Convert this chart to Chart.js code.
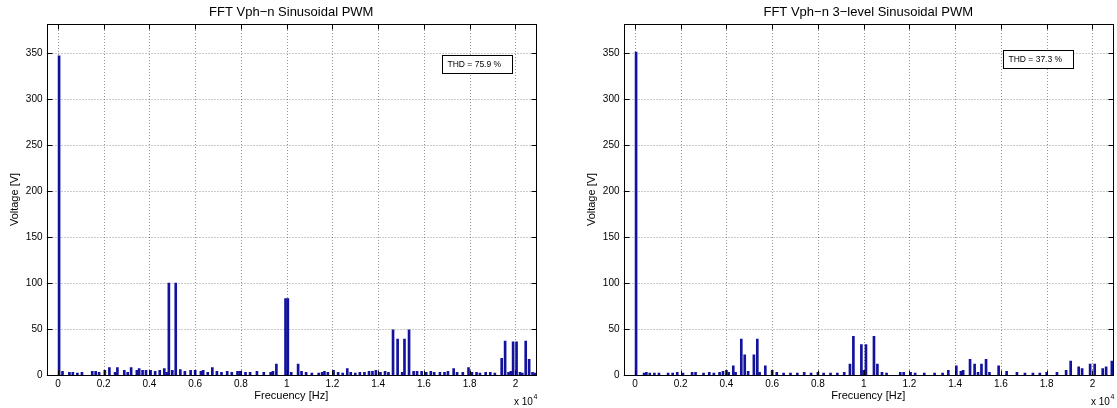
<!DOCTYPE html>
<html><head><meta charset="utf-8">
<script src="https://cdn.jsdelivr.net/npm/chart.js@4.4.1/dist/chart.umd.min.js"></script>
<style>
html,body{margin:0;padding:0;background:#fff;}
#wrap{position:relative;width:1117px;height:408px;overflow:hidden;}
#c1{position:absolute;left:0;top:0;}
#c2{position:absolute;left:577px;top:0;}
</style></head><body>
<div id="wrap"><canvas id="c1" width="577" height="408"></canvas><canvas id="c2" width="540" height="408"></canvas></div>
<script>
// ---- tick values / labels ----
const xTicks = [0, 2000, 4000, 6000, 8000, 10000, 12000, 14000, 16000, 18000, 20000];
const xTickLabels = ['0', '0.2', '0.4', '0.6', '0.8', '1', '1.2', '1.4', '1.6', '1.8', '2'];
const yTicks = [0, 50, 100, 150, 200, 250, 300, 350];

// ---- titles / text ----
const leftTitle = 'FFT Vph\u2212n Sinusoidal PWM';
const rightTitle = 'FFT Vph\u2212n 3\u2212level Sinusoidal PWM';
const xLabel = 'Frecuency [Hz]';
const yLabel = 'Voltage [V]';
const leftTHD = 'THD = 75.9 %';
const rightTHD = 'THD = 37.3 %';

// ---- left spectrum (2-level SPWM): frequency [Hz] and amplitude [V] ----
const leftFreq = [50,
  4850, 5150, 9950, 10050, 14650, 14850, 15150, 15350,
  19400, 19550, 19900, 20050, 20450, 20600, 9550, 10500,
  200, 500, 650, 850, 1050, 1500, 1650, 1800, 2050, 2250, 2500, 2600, 2900, 3050,
  3200, 3450, 3550, 3700, 3850, 4050, 4250, 4450, 4650, 4750, 5000, 5350, 5550,
  5800, 6000, 6250, 6350, 6550, 6750, 6950, 7150, 7400, 7600, 7850, 7950, 8200,
  8400, 8700, 9000, 9300, 9400, 10200, 10650, 10850, 11100, 11400, 11550, 11650,
  11800, 12050, 12250, 12450, 12650, 12800, 13000, 13200, 13400, 13600, 13750,
  13900, 14100, 14300, 14450, 15050, 15550, 15700, 15900, 16100, 16300, 16450,
  16700, 16900, 17050, 17300, 17450, 17700, 17950, 18100, 18300, 18450, 18700,
  18900, 19100, 19700, 19800, 20200, 20300, 20750, 20850];
const leftAmp = [347,
  100, 100, 83, 83, 49, 39, 39, 49,
  18, 37, 36, 36, 37, 17, 12, 12,
  4, 3, 3, 2, 3, 4, 4, 3, 5, 8, 3, 8, 5, 3,
  8, 5, 7, 5, 5, 5, 4, 5, 7, 3, 5, 6, 4,
  5, 5, 4, 5, 3, 8, 4, 3, 4, 3, 4, 4, 3,
  3, 4, 3, 3, 4, 3, 4, 3, 2, 2, 3, 4,
  3, 5, 3, 2, 7, 3, 2, 3, 3, 4, 4,
  5, 3, 4, 3, 3, 4, 4, 4, 3, 4, 3,
  3, 3, 4, 7, 3, 3, 8, 3, 3, 2, 3,
  3, 2, 3, 4, 3, 2, 3, 2];

// ---- right spectrum (3-level SPWM) ----
const rightFreq = [50,
  4300, 4650, 4800, 5200, 5350, 5700, 9400, 9550, 9900, 10100, 10450, 10600,
  13700, 14050, 14650, 14850, 15150, 15350, 15900, 19050, 19400, 19550, 19900,
  20100, 20450, 20600, 20850,
  400, 500, 650, 850, 1050, 1450, 1650, 1850, 2100, 2500, 2650, 3000, 3250, 3450,
  3700, 3850, 4000, 4100, 4400, 4950, 5450, 6000, 6200, 6500, 6800, 7100, 7400,
  7700, 8000, 8250, 8550, 8850, 9150, 10000, 10800, 11000, 11600, 11750, 12050,
  12250, 12650, 13100, 13450, 14250, 14350, 15000, 15500, 16250, 16700, 17050,
  17400, 17700, 18000, 18450, 18850];
const rightAmp = [351,
  10, 39, 22, 22, 39, 10, 12, 42, 33, 33, 42, 12,
  5, 10, 17, 12, 12, 17, 10, 15, 9, 7, 12,
  12, 7, 9, 15,
  2, 3, 2, 2, 2, 2, 2, 3, 2, 3, 3, 2, 3, 2,
  3, 4, 5, 3, 3, 4, 3, 5, 3, 2, 2, 2, 3,
  2, 3, 2, 2, 2, 3, 5, 3, 2, 3, 3, 3,
  2, 2, 2, 2, 4, 5, 3, 3, 4, 3, 2,
  2, 2, 3, 3, 5];

const FONT = "'Liberation Sans', Arial, Helvetica, sans-serif";
const BAR_COLOR = '#12129c';

function framePlugin(titleText, thdText, thdOffsetX, thdTop) {
  return {
    id: 'frame',
    beforeDatasetsDraw(chart) {
      const {ctx, chartArea: a, scales: {x, y}} = chart;
      ctx.save();
      ctx.strokeStyle = 'rgba(0,0,0,0.42)';
      ctx.lineWidth = 1;
      ctx.setLineDash([1, 2]);
      xTicks.forEach(v => {
        const px = Math.round(x.getPixelForValue(v)) + 0.5;
        ctx.beginPath(); ctx.moveTo(px, a.top); ctx.lineTo(px, a.bottom); ctx.stroke();
      });
      yTicks.forEach(v => {
        const py = Math.round(y.getPixelForValue(v)) + 0.5;
        ctx.beginPath(); ctx.moveTo(a.left, py); ctx.lineTo(a.right, py); ctx.stroke();
      });
      ctx.restore();
    },
    afterDatasetsDraw(chart) {
      const {ctx, chartArea: a, scales: {x, y}} = chart;
      ctx.save();
      ctx.strokeStyle = '#000';
      ctx.lineWidth = 1;
      ctx.setLineDash([]);
      const L = Math.round(a.left) + 0.5, R = Math.round(a.right) + 0.5;
      const T = Math.round(a.top) + 0.5, B = Math.round(a.bottom) + 0.5;
      ctx.strokeRect(L, T, R - L, B - T);
      const tl = 5;
      ctx.beginPath();
      xTicks.forEach(v => {
        const px = Math.round(x.getPixelForValue(v)) + 0.5;
        ctx.moveTo(px, B); ctx.lineTo(px, B - tl);
        ctx.moveTo(px, T); ctx.lineTo(px, T + tl);
      });
      yTicks.forEach(v => {
        const py = Math.round(y.getPixelForValue(v)) + 0.5;
        ctx.moveTo(L, py); ctx.lineTo(L + tl, py);
        ctx.moveTo(R, py); ctx.lineTo(R - tl, py);
      });
      ctx.stroke();
      // title centred over the axes box
      ctx.fillStyle = '#000';
      ctx.font = '13px ' + FONT;
      ctx.textAlign = 'center';
      ctx.textBaseline = 'middle';
      ctx.fillText(titleText, (a.left + a.right) / 2, 12.5);
      // THD annotation box
      const bx = Math.round(a.left + thdOffsetX) + 0.5, by = thdTop + 0.5, bw = 70, bh = 18;
      ctx.fillStyle = '#fff';
      ctx.fillRect(bx, by, bw, bh);
      ctx.strokeRect(bx, by, bw, bh);
      ctx.fillStyle = '#000';
      ctx.font = '8.5px ' + FONT;
      ctx.textBaseline = 'middle';
      ctx.textAlign = 'left';
      ctx.fillText(thdText, bx + 5, by + bh / 2 + 0.5);
      // x 10^4 multiplier
      ctx.font = '10px ' + FONT;
      ctx.textBaseline = 'alphabetic';
      const mx = a.right - 22;
      ctx.fillText('x 10', mx, 405);
      ctx.font = '7px ' + FONT;
      ctx.fillText('4', mx + 19.5, 399);
      ctx.restore();
    }
  };
}

function makeChart(canvasId, freq, amp, title, thdText, thdOffsetX, thdTop, padRight) {
  const pts = freq.map((f, i) => ({x: f, y: amp[i]}));
  return new Chart(document.getElementById(canvasId), {
    type: 'bar',
    data: {datasets: [{data: pts, backgroundColor: BAR_COLOR, borderWidth: 0, barThickness: 2}]},
    options: {
      responsive: false,
      animation: false,
      layout: {padding: {left: 0, right: padRight, top: 24, bottom: 0}},
      plugins: {
        legend: {display: false},
        tooltip: {enabled: false},
        title: {display: false}
      },
      scales: {
        x: {
          type: 'linear', min: -500, max: 20900, offset: false,
          grid: {display: false, drawTicks: false},
          border: {display: false},
          afterBuildTicks: s => { s.ticks = xTicks.map(v => ({value: v})); },
          afterFit: s => { s.height = 33; },
          ticks: {
            color: '#000', padding: 3, maxRotation: 0, autoSkip: false,
            font: {family: FONT, size: 10},
            callback: (v, i) => xTickLabels[i]
          },
          title: {
            display: true, text: xLabel, color: '#000',
            font: {family: FONT, size: 11, lineHeight: 1.2},
            padding: {top: 0, bottom: 5.4}
          }
        },
        y: {
          type: 'linear', min: 0, max: 381.5,
          grid: {display: false, drawTicks: false},
          border: {display: false},
          afterBuildTicks: s => { s.ticks = yTicks.map(v => ({value: v})); },
          afterFit: s => { s.width = 46.5; },
          ticks: {
            color: '#000', padding: 4, autoSkip: false,
            font: {family: FONT, size: 10},
            callback: v => String(v)
          },
          title: {
            display: true, text: yLabel, color: '#000',
            font: {family: FONT, size: 11, lineHeight: 1.2},
            padding: {top: 8.4, bottom: 0}
          }
        }
      }
    },
    plugins: [framePlugin(title, thdText, thdOffsetX, thdTop)]
  });
}

makeChart('c1', leftFreq, leftAmp, leftTitle, leftTHD, 395, 55, 41);
makeChart('c2', rightFreq, rightAmp, rightTitle, rightTHD, 379, 50, 4);
</script>
</body></html>
